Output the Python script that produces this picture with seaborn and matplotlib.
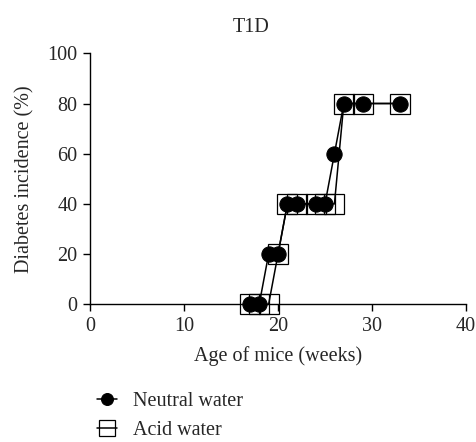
import matplotlib
matplotlib.use('Agg')
import matplotlib.pyplot as plt
import pandas as pd
import seaborn as sns

# Valores (semanas, % incidencia)
neutral_weeks = [17, 18, 19, 20, 21, 22, 24, 25, 26, 27, 29, 33]
neutral_incidence = [0, 0, 20, 20, 40, 40, 40, 40, 60, 80, 80, 80]
acid_weeks = [17, 18, 19, 20, 21, 22, 24, 25, 26, 27, 29, 33]
acid_incidence = [0, 0, 0, 20, 40, 40, 40, 40, 40, 80, 80, 80]
x_ticks = [0, 10, 20, 30, 40]
y_ticks = [0, 20, 40, 60, 80, 100]

neutral = pd.DataFrame({'week': neutral_weeks, 'incidence': neutral_incidence})
acid = pd.DataFrame({'week': acid_weeks, 'incidence': acid_incidence})

sns.set_style('ticks')
plt.rcParams['font.family'] = ['Liberation Serif', 'DejaVu Serif']
plt.rcParams['font.size'] = 14

fig = plt.figure(figsize=(4.77, 4.42), dpi=100)
ax = fig.add_axes([0.1887, 0.3115, 0.7883, 0.5679])

# Agua ácida primero (cuadrados vacíos, detrás)
sns.lineplot(data=acid, x='week', y='incidence', ax=ax, estimator=None, sort=False,
             color='black', linewidth=1.1, marker='s', markersize=14,
             markerfacecolor='none', markeredgecolor='black', markeredgewidth=0.9,
             label='Acid water')
sns.lineplot(data=neutral, x='week', y='incidence', ax=ax, estimator=None, sort=False,
             color='black', linewidth=1.1, marker='o', markersize=11,
             markerfacecolor='black', markeredgecolor='black',
             label='Neutral water')

ax.set_xlim(0, 40)
ax.set_ylim(0, 100)
ax.set_xticks(x_ticks)
ax.set_yticks(y_ticks)
for ln in ax.lines:
    ln.set_clip_on(False)
for side in ('top', 'right'):
    ax.spines[side].set_visible(False)
for side in ('left', 'bottom'):
    ax.spines[side].set_linewidth(1.0)
    ax.spines[side].set_color('black')
ax.tick_params(axis='both', direction='out', length=5, width=1.0, color='black',
               labelsize=14.5, pad=4)

ax.set_xlabel('Age of mice (weeks)', fontsize=14.5)
ax.set_ylabel('Diabetes incidence (%)', fontsize=14.5)
ax.xaxis.set_label_coords(0.5, -0.165)
ax.yaxis.set_label_coords(-0.147, 0.5)

fig.text(0.526, 0.938, 'T1D', ha='center', va='center', fontsize=14.5)

handles, labels = ax.get_legend_handles_labels()
ax.legend(handles[::-1], labels[::-1], loc='upper left',
          bbox_to_anchor=(0.2034, 0.113), bbox_transform=fig.transFigure,
          frameon=False, borderaxespad=0, borderpad=0, handlelength=1.0,
          handletextpad=0.78, labelspacing=0.5, markerscale=0.78, fontsize=14.5)

fig.savefig('out.png', dpi=100)
